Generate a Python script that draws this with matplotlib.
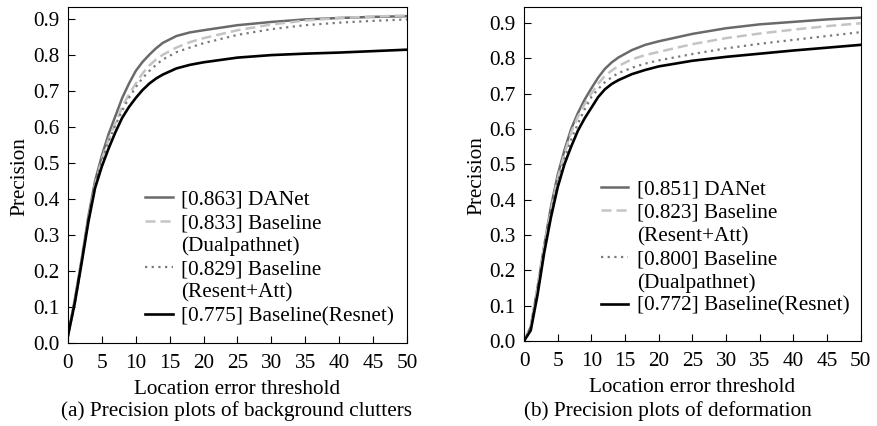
import matplotlib
matplotlib.use('Agg')
import matplotlib.pyplot as plt
from matplotlib.lines import Line2D

plt.rcParams['font.family'] = ['Liberation Serif', 'DejaVu Serif']
plt.rcParams['font.size'] = 15.3

# location error thresholds (pixels)
thresholds = [0, 1, 2, 3, 4, 5, 6, 7, 8, 9, 10, 11, 12, 13, 14, 16, 18, 20, 25, 30, 35, 40, 45, 50]

# (a) background clutters
a_danet = [0.02, 0.12, 0.23, 0.35, 0.45, 0.52, 0.58, 0.63, 0.68, 0.72, 0.755, 0.78, 0.80, 0.818,
           0.833, 0.852, 0.862, 0.868, 0.882, 0.891, 0.898, 0.902, 0.905, 0.907]
a_dual = [0.02, 0.11, 0.225, 0.34, 0.44, 0.51, 0.565, 0.61, 0.655, 0.69, 0.72, 0.748, 0.77,
          0.787, 0.80, 0.82, 0.835, 0.846, 0.868, 0.884, 0.895, 0.902, 0.906, 0.909]
a_resatt = [0.02, 0.11, 0.22, 0.34, 0.44, 0.505, 0.56, 0.605, 0.645, 0.68, 0.71, 0.735, 0.755,
            0.772, 0.787, 0.807, 0.82, 0.832, 0.855, 0.871, 0.882, 0.889, 0.894, 0.898]
a_resnet = [0.02, 0.11, 0.22, 0.335, 0.43, 0.49, 0.54, 0.585, 0.625, 0.655, 0.68, 0.702, 0.72,
            0.734, 0.745, 0.762, 0.772, 0.779, 0.792, 0.799, 0.803, 0.806, 0.810, 0.814]

# (b) deformation
b_danet = [0.0, 0.04, 0.15, 0.27, 0.38, 0.47, 0.54, 0.60, 0.645, 0.683, 0.715, 0.745, 0.77,
           0.788, 0.802, 0.823, 0.838, 0.848, 0.869, 0.885, 0.896, 0.903, 0.910, 0.915]
b_resatt = [0.0, 0.04, 0.15, 0.27, 0.37, 0.46, 0.53, 0.59, 0.635, 0.67, 0.70, 0.728, 0.75,
            0.765, 0.778, 0.797, 0.809, 0.818, 0.840, 0.857, 0.870, 0.881, 0.891, 0.899]
b_dual = [0.0, 0.035, 0.14, 0.26, 0.36, 0.45, 0.515, 0.57, 0.615, 0.655, 0.69, 0.713, 0.732,
          0.746, 0.758, 0.773, 0.785, 0.794, 0.812, 0.828, 0.841, 0.852, 0.863, 0.874]
b_resnet = [0.0, 0.03, 0.13, 0.25, 0.35, 0.435, 0.50, 0.55, 0.595, 0.63, 0.66, 0.69, 0.712,
            0.727, 0.738, 0.755, 0.767, 0.777, 0.793, 0.804, 0.813, 0.822, 0.830, 0.838]

a_labels = ['[0.863] DANet', '[0.833] Baseline\n(Dualpathnet)',
            '[0.829] Baseline\n(Resent+Att)', '[0.775] Baseline(Resnet)']
b_labels = ['[0.851] DANet', '[0.823] Baseline\n(Resent+Att)',
            '[0.800] Baseline\n(Dualpathnet)', '[0.772] Baseline(Resnet)']

styles = [
    dict(color='#6a6a6a', linestyle='-', linewidth=1.8),
    dict(color='#c4c4c4', linestyle=(0, (4, 2)), linewidth=1.8),
    dict(color='#7a7a7a', linestyle=(0, (1, 2)), linewidth=1.6),
    dict(color='black', linestyle='-', linewidth=1.9),
]


def draw_panel(ax, series, labels, ytop, leg_anchor):
    handles, texts = [], []
    for vals, lab, st in zip(series, labels, styles):
        line, = ax.plot(thresholds, vals, **st)
        # one legend row per text line so the handle sits on the first line
        for i, part in enumerate(lab.split('\n')):
            handles.append(line if i == 0 else Line2D([], [], color='none'))
            texts.append(part)
    ax.set_xlim(0, 50)
    ax.set_ylim(0, ytop)
    ax.set_xticks(range(0, 51, 5))
    ax.set_yticks([i / 10 for i in range(10)])
    ax.set_yticklabels([f'{i / 10:.1f}' for i in range(10)])
    ax.tick_params(direction='in', length=5, width=0.8, top=False, right=False)
    ax.tick_params(axis='x', pad=8)
    ax.tick_params(axis='y', pad=6)
    ax.set_xlabel('Location error threshold', labelpad=5)
    ax.set_ylabel('Precision')
    ax.yaxis.set_label_coords(-0.113, 0.495)
    ax.legend(handles, texts, loc='upper left', bbox_to_anchor=leg_anchor, frameon=False,
              handlelength=1.3, handletextpad=0.4, labelspacing=0.16,
              borderaxespad=0.0, borderpad=0.0)


fig = plt.figure(figsize=(8.77, 4.26), dpi=100)
ax1 = fig.add_axes([0.0775, 0.195, 0.3865, 0.789])
ax2 = fig.add_axes([0.5975, 0.1995, 0.384, 0.784])

draw_panel(ax1, [a_danet, a_dual, a_resatt, a_resnet], a_labels, 0.933, (0.227, 0.455))
draw_panel(ax2, [b_danet, b_resatt, b_dual, b_resnet], b_labels, 0.945, (0.228, 0.483))

fig.text(0.27, 0.034, '(a) Precision plots of background clutters', ha='center', va='center')
fig.text(0.761, 0.034, '(b) Precision plots of deformation', ha='center', va='center')

fig.savefig('out.png', dpi=100)
